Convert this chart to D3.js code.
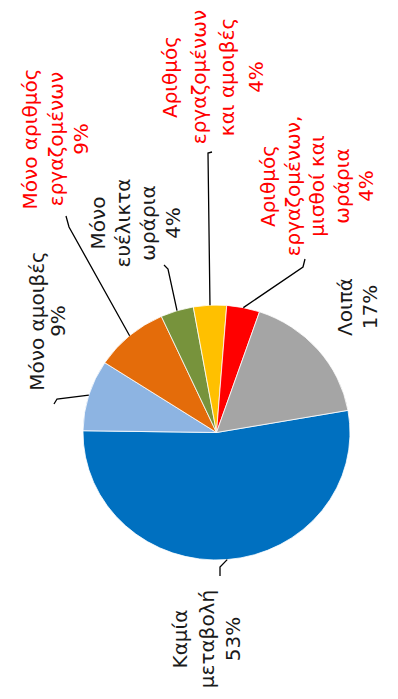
<!DOCTYPE html>
<meta charset="utf-8">
<script src="https://cdn.jsdelivr.net/npm/d3@7"></script>
<style>
body { margin: 0; background: #fff; }
text { font-family: "DejaVu Sans", sans-serif; font-size: 20px; }
path.slice { stroke: #fff; stroke-width: 0.8px; }
path.leader { fill: none; stroke: #000; stroke-width: 1.3px; }
</style>
<body>
<script>

// data (the chart is printed turned on its side)
var categories = ["Καμία μεταβολή", "Μόνο αμοιβές", "Μόνο αριθμός εργαζομένων",
                  "Μόνο ευέλικτα ωράρια", "Αριθμός εργαζομένων και αμοιβές",
                  "Αριθμός εργαζομένων, μισθοί και ωράρια", "Λοιπά"];
var values = [53, 9, 9, 4, 4, 4, 17];
var labelLines = [
  ["Καμία", "μεταβολή"],
  ["Μόνο αμοιβές"],
  ["Μόνο αριθμός", "εργαζομένων"],
  ["Μόνο", "ευέλικτα", "ωράρια"],
  ["Αριθμός", "εργαζομένων", "και αμοιβές"],
  ["Αριθμός", "εργαζομένων,", "μισθοί και", "ωράρια"],
  ["Λοιπά"]
];
var redLabel = [false, false, true, false, true, true, false];

var colors = ["#0070c0", "#8db4e2", "#e46c0a", "#77933c", "#ffc000", "#ff0000", "#a5a5a5"];

var width = 398, height = 699;
var cx = 216.5, cy = 432.5, rx = 133.5, ry = 127.5;

// label placement in page coords: y = centre of the (rotated) text block,
// x = baseline of first line, lh = line step; leader = elbow + end point
var layout = [
  {x: 187, y: 639, lh: 26.5, leader: [[220, 567], [220, 576]]},
  {x: 44,  y: 321, lh: 20.5, leader: [[57, 399], [54, 404]]},
  {x: 37,  y: 139, lh: 25.5, leader: [[69, 227], [66, 216]]},
  {x: 105, y: 223, lh: 25,   leader: [[168, 269], [164, 265]]},
  {x: 177, y: 77,  lh: 28.5, leader: [[208, 153], [212, 152]]},
  {x: 275, y: 186, lh: 24.5, leader: [[303, 267], [305, 259]]},
  {x: 352, y: 307, lh: 25,   leader: null}
];

var svg = d3.select("body").append("svg")
    .attr("width", width)
    .attr("height", height);

var pie = d3.pie()
    .sort(null)
    .value(function(d) { return d; })
    .startAngle(80 * Math.PI / 180)
    .endAngle(80 * Math.PI / 180 + 2 * Math.PI);

var arcs = pie(values);

var arc = d3.arc().innerRadius(0).outerRadius(rx);

svg.append("g")
    .attr("transform", "translate(" + cx + "," + cy + ") scale(1," + (ry / rx) + ")")
  .selectAll("path")
    .data(arcs)
    .enter().append("path")
    .attr("class", "slice")
    .attr("fill", function(d, i) { return colors[i]; })
    .attr("d", arc);

// leader lines start on the rim at the slice's middle angle
var line = d3.line();
svg.append("g").selectAll("path")
    .data(arcs.filter(function(d, i) { return layout[i].leader; }))
    .enter().append("path")
    .attr("class", "leader")
    .attr("d", function(d) {
      var a = (d.startAngle + d.endAngle) / 2;
      var p0 = [cx + rx * Math.sin(a), cy - ry * Math.cos(a)];
      return line([p0].concat(layout[d.index].leader));
    });

// labels, turned -90deg like the source
var label = svg.append("g").selectAll("text")
    .data(arcs)
    .enter().append("text")
    .attr("text-anchor", "middle")
    .attr("fill", function(d, i) { return redLabel[i] ? "#ff0000" : "#1a1a1a"; })
    .attr("transform", function(d, i) {
      return "translate(" + layout[i].x + "," + layout[i].y + ") rotate(-90)";
    });

label.each(function(d, i) {
  var lines = labelLines[i].concat([values[i] + "%"]);
  var t = d3.select(this);
  lines.forEach(function(s, j) {
    t.append("tspan")
      .attr("x", 0)
      .attr("y", j * layout[i].lh)
      .text(s);
  });
});

</script>
</body>
